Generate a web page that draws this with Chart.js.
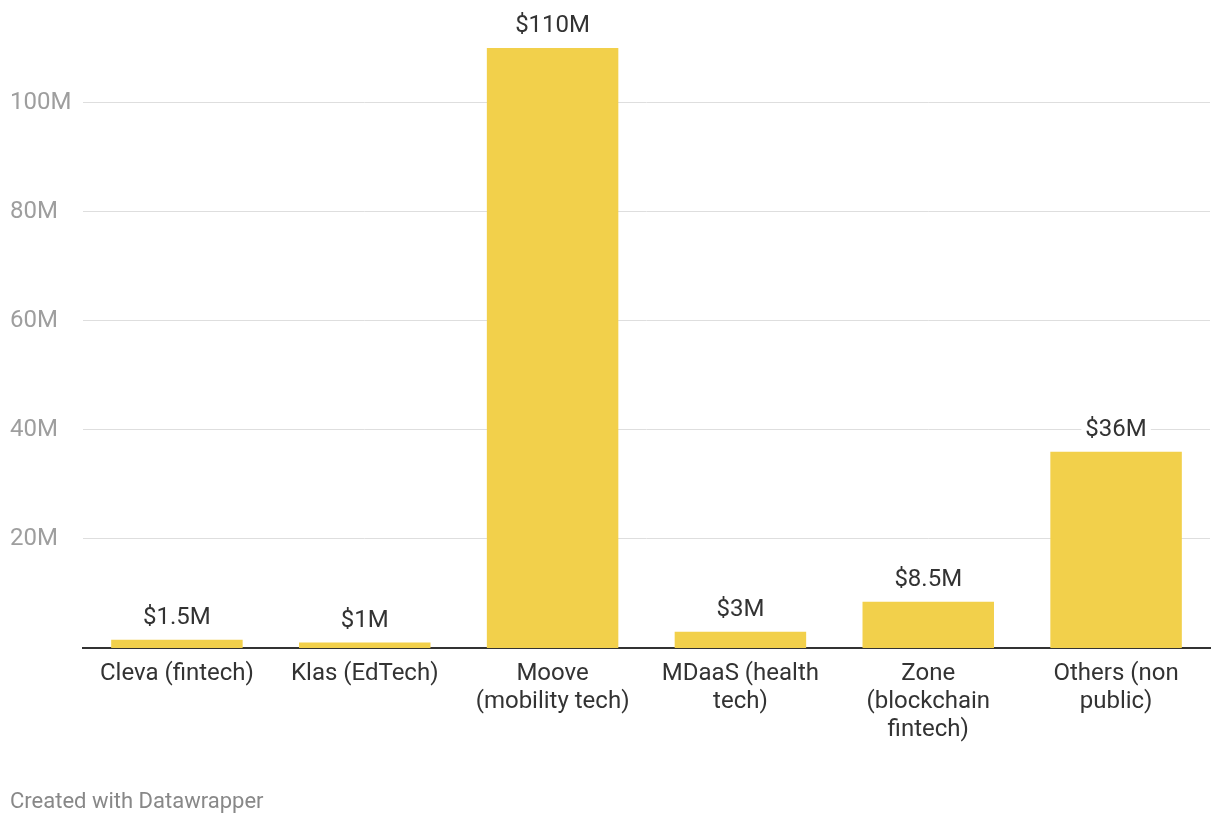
<!DOCTYPE html>
<html>
<head>
<meta charset="utf-8">
<script src="https://cdn.jsdelivr.net/npm/chart.js@4"></script>
<style>
  body { margin: 0; background: #fff; }
  #wrap { position: relative; width: 1220px; height: 824px; }
  #credit {
    position: absolute; left: 10px; top: 788px;
    font: 22px Roboto, sans-serif; color: #888;
  }
</style>
</head>
<body>
<div id="wrap">
  <canvas id="chart" width="1220" height="824"></canvas>
  <div id="credit">Created with Datawrapper</div>
</div>
<script>
const categories = [
  "Cleva (fintech)",
  "Klas (EdTech)",
  ["Moove", "(mobility tech)"],
  ["MDaaS (health", "tech)"],
  ["Zone", "(blockchain", "fintech)"],
  ["Others (non", "public)"]
];
const fundingMillions = [1.5, 1, 110, 3, 8.5, 36];
const yTicks = [20, 40, 60, 80, 100];

const barColor = "#f2d04b";
const textColor = "#333";

// value labels above each bar, with a white box so gridlines break behind them
const valueLabels = {
  id: "valueLabels",
  afterDatasetsDraw(chart) {
    const ctx = chart.ctx;
    const meta = chart.getDatasetMeta(0);
    ctx.save();
    ctx.font = "24px Roboto, sans-serif";
    ctx.textAlign = "center";
    ctx.textBaseline = "alphabetic";
    meta.data.forEach((bar, i) => {
      const text = "$" + fundingMillions[i] + "M";
      const w = ctx.measureText(text).width;
      const y = bar.y - 16;
      ctx.fillStyle = "#fff";
      ctx.fillRect(bar.x - w / 2 - 4, y - 22, w + 8, 28);
      ctx.fillStyle = textColor;
      ctx.fillText(text, bar.x, y);
    });
    ctx.restore();
  }
};

new Chart(document.getElementById("chart"), {
  type: "bar",
  data: {
    labels: categories,
    datasets: [{
      data: fundingMillions,
      backgroundColor: barColor,
      categoryPercentage: 1,
      barPercentage: 0.7
    }]
  },
  options: {
    responsive: false,
    animation: false,
    events: [],
    layout: { padding: { left: 10, right: 10, top: 48, bottom: 0 } },
    plugins: { legend: { display: false }, tooltip: { enabled: false } },
    scales: {
      x: {
        grid: { display: false },
        border: { color: textColor, width: 2 },
        ticks: {
          color: textColor,
          padding: 4,
          maxRotation: 0,
          autoSkip: false,
          font: { family: "Roboto", size: 24, lineHeight: 1.16 }
        },
        afterFit: scale => { scale.height = 176; }
      },
      y: {
        min: 0,
        max: 110,
        border: { display: false },
        grid: { color: "#dedede", drawTicks: false, lineWidth: 1 },
        afterBuildTicks: axis => {
          axis.ticks = yTicks.map(v => ({ value: v }));
        },
        afterFit: scale => { scale.width = 73; },
        ticks: {
          color: "#9e9e9e",
          crossAlign: "far",
          padding: 0,
          font: { family: "Roboto", size: 24 },
          callback: v => v + "M"
        }
      }
    }
  },
  plugins: [valueLabels]
});
</script>
</body>
</html>
